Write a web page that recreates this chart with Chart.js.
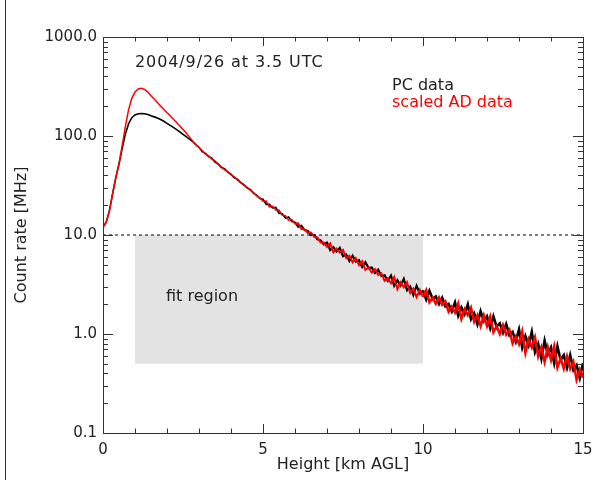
<!DOCTYPE html>
<html>
<head>
<meta charset="utf-8">
<script src="https://cdn.jsdelivr.net/npm/chart.js@4/dist/chart.umd.min.js"></script>
<style>
    html, body { margin: 0; padding: 0; background: #fff; }
    canvas { display: block; }
</style>
</head>
<body>
<canvas id="grafica" width="593" height="480"></canvas>
<script>
// alturas cada 0.1 km, de 0 a 15
const alturas = Array.from({ length: 151 }, (_, i) => i / 10);

// cuentas PC (negro), MHz
const pcData = [
    12.0, 13.5, 17.5, 26, 38, 52, 75, 105, 133, 153,
    163, 168, 169, 168, 165, 160, 156, 152, 147, 141,
    134, 128, 122, 116, 110, 104, 98.5, 93, 88, 82,
    76.9, 69.5, 66.7, 62.1, 59.8, 54.6, 52.2, 48.1, 46.7, 43.1,
    41.1, 37.8, 36.7, 33.9, 32.3, 29.9, 28.8, 26.5, 25.3, 23.4,
    23.0, 20.4, 20.4, 18.8, 19.0, 16.6, 16.4, 14.8, 15.2, 13.7,
    13.5, 12.1, 12.4, 11.2, 11.0, 9.95, 10.05, 9.04, 8.83, 8.02,
    8.39, 7.02, 7.53, 6.79, 7.41, 6.09, 6.35, 5.46, 6.19, 5.38,
    5.56, 4.74, 5.33, 4.63, 4.71, 4.13, 4.48, 3.85, 3.92, 3.44,
    3.90, 3.07, 3.50, 3.07, 3.61, 2.76, 3.02, 2.47, 3.07, 2.55,
    2.75, 2.23, 2.73, 2.27, 2.39, 2.01, 2.33, 1.91, 2.01, 1.70,
    2.08, 1.53, 1.85, 1.58, 1.99, 1.41, 1.61, 1.26, 1.70, 1.35,
    1.51, 1.15, 1.51, 1.19, 1.28, 1.03, 1.26, 0.973, 1.05, 0.839,
    1.11, 0.731, 0.953, 0.767, 1.05, 0.658, 0.794, 0.564, 0.855, 0.622,
    0.733, 0.507, 0.750, 0.546, 0.611, 0.456, 0.610, 0.433, 0.484, 0.361,
    0.508
];

// cuentas AD escaladas (rojo), MHz
const adData = [
    12.0, 13.5, 17.5, 26, 38, 53, 80, 125, 185, 240,
    278, 298, 303, 295, 278, 255, 236, 218, 201, 186,
    172, 160, 148, 137, 126, 116, 107, 98, 89, 82,
    76.5, 71.3, 65.4, 62.9, 58.5, 56.0, 51.5, 49.2, 45.4, 43.8,
    40.5, 39.0, 35.7, 34.1, 31.8, 30.5, 28.3, 27.0, 24.8, 23.8,
    21.9, 22.0, 19.2, 19.5, 17.9, 17.9, 15.8, 15.7, 14.1, 14.3,
    12.9, 13.1, 11.5, 11.4, 10.5, 10.6, 9.59, 9.46, 8.39, 8.39,
    7.59, 8.21, 6.68, 7.30, 6.64, 7.06, 5.85, 6.16, 5.30, 5.84,
    4.97, 5.43, 4.43, 4.67, 4.17, 4.52, 3.96, 4.10, 3.44, 3.66,
    3.25, 3.76, 2.84, 3.33, 2.96, 3.34, 2.59, 2.87, 2.36, 2.80,
    2.36, 2.77, 2.09, 2.33, 2.02, 2.34, 1.97, 2.13, 1.68, 1.89,
    1.65, 2.03, 1.42, 1.78, 1.55, 1.84, 1.33, 1.55, 1.20, 1.54,
    1.20, 1.50, 1.04, 1.20, 1.00, 1.23, 0.984, 1.10, 0.804, 0.948,
    0.791, 1.06, 0.644, 0.883, 0.730, 0.927, 0.594, 0.736, 0.522, 0.735,
    0.548, 0.752, 0.458, 0.568, 0.446, 0.596, 0.445, 0.524, 0.344, 0.438,
    0.361
];

const xTicks = [0, 5, 10, 15];
const xTickLabels = ["0", "5", "10", "15"];
const yTicks = [0.1, 1, 10, 100, 1000];
const yTickLabels = ["0.1", "1.0", "10.0", "100.0", "1000.0"];

const regionX = [1, 10];
const regionY = [0.5, 10];
const umbral = 10;

const titulo = "2004/9/26 at 3.5 UTC";
const nombres = ["PC data", "scaled AD data"];
const textoRegion = "fit region";

const TINTA = "#222";
const EJES = "#333";
const FUENTE = "DejaVu Sans";

Chart.defaults.font.family = FUENTE;
Chart.defaults.color = TINTA;

function puntos(serie) {
    return serie.map((v, i) => ({ x: alturas[i], y: v }));
}

// el ruido se ve como banda mas gruesa arriba
function grosor(base) {
    return (c) => {
        const x = c.p0.parsed.x;
        if (x < 6) return base;
        if (x < 10) return base + 0.5;
        return base + 1;
    };
}

const px = (p) => Math.round(p) + 0.5;

const marco = {
    id: "marco",
    beforeDraw(chart) {
        const ctx = chart.ctx;
        ctx.save();
        ctx.fillStyle = "#fff";
        ctx.fillRect(0, 0, chart.width, chart.height);
        ctx.restore();
    },
    afterDraw(chart) {
        const { ctx, chartArea: a } = chart;
        const xs = chart.scales.x;
        const ys = chart.scales.y;
        ctx.save();
        ctx.strokeStyle = EJES;
        ctx.lineWidth = 1;

        // linea vertical a la izquierda
        ctx.beginPath();
        ctx.moveTo(5.5, 0);
        ctx.lineTo(5.5, chart.height);
        ctx.stroke();

        // caja
        ctx.strokeRect(px(a.left), px(a.top), Math.round(a.right - a.left), Math.round(a.bottom - a.top));

        // marcas eje y (izquierda y derecha)
        ctx.beginPath();
        for (let d = 0.1; d < 1000; d *= 10) {
            for (let k = 1; k <= 9; k++) {
                const y = px(ys.getPixelForValue(d * k));
                const l = k === 1 ? 10 : 5;
                ctx.moveTo(a.left, y); ctx.lineTo(a.left + l, y);
                ctx.moveTo(a.right, y); ctx.lineTo(a.right - l, y);
            }
        }
        const yTop = px(ys.getPixelForValue(1000));
        ctx.moveTo(a.left, yTop); ctx.lineTo(a.left + 10, yTop);
        ctx.moveTo(a.right, yTop); ctx.lineTo(a.right - 10, yTop);

        // marcas eje x (abajo y arriba)
        for (let k = 0; k <= 15; k++) {
            const x = px(xs.getPixelForValue(k));
            const l = k % 5 === 0 ? 9 : 4.5;
            ctx.moveTo(x, a.bottom); ctx.lineTo(x, a.bottom - l);
            ctx.moveTo(x, a.top); ctx.lineTo(x, a.top + l);
        }
        ctx.stroke();

        // textos dentro
        ctx.font = "16px '" + FUENTE + "'";
        ctx.textBaseline = "alphabetic";
        ctx.textAlign = "left";
        ctx.fillStyle = TINTA;
        ctx.letterSpacing = "0.9px";
        ctx.fillText(titulo, xs.getPixelForValue(1), 67);
        ctx.letterSpacing = "0px";
        ctx.fillText(nombres[0], a.left + 289, 90);
        ctx.fillStyle = "#ff0000";
        ctx.fillText(nombres[1], a.left + 289, 107);
        ctx.fillStyle = TINTA;
        ctx.fillText(textoRegion, a.left + 63, 301);
        ctx.restore();
    }
};

new Chart(document.getElementById("grafica"), {
    type: "line",
    data: {
        datasets: [
            {
                label: nombres[1],
                data: puntos(adData),
                borderColor: "#ff0000",
                borderWidth: 1.5,
                segment: { borderWidth: grosor(1.5) },
                pointRadius: 0,
                tension: 0,
                fill: false
            },
            {
                label: nombres[0],
                data: puntos(pcData),
                borderColor: "#000",
                borderWidth: 1.8,
                segment: { borderWidth: grosor(1.6) },
                pointRadius: 0,
                tension: 0,
                fill: false
            },
            {
                label: "umbral",
                data: [{ x: 0, y: umbral }, { x: 15, y: umbral }],
                borderColor: "#000",
                borderWidth: 1,
                borderDash: [3, 3],
                pointRadius: 0,
                fill: false
            },
            {
                label: textoRegion,
                data: [{ x: regionX[0], y: regionY[1] }, { x: regionX[1], y: regionY[1] }],
                borderWidth: 0,
                borderColor: "rgba(0,0,0,0)",
                backgroundColor: "#e3e3e3",
                pointRadius: 0,
                fill: { value: regionY[0] }
            }
        ]
    },
    options: {
        responsive: false,
        animation: false,
        devicePixelRatio: 1,
        events: [],
        layout: { padding: { top: 37, right: 10, bottom: 0, left: 0 } },
        plugins: {
            legend: { display: false },
            tooltip: { enabled: false }
        },
        scales: {
            x: {
                type: "linear",
                min: 0,
                max: 15,
                grid: { display: false, drawTicks: false },
                border: { display: false },
                afterBuildTicks: (s) => { s.ticks = xTicks.map((v) => ({ value: v })); },
                afterFit: (s) => { s.height = 47; s.paddingLeft = 0; s.paddingRight = 0; },
                ticks: {
                    autoSkip: false,
                    maxRotation: 0,
                    minRotation: 0,
                    padding: 8,
                    font: { size: 15 },
                    color: TINTA,
                    callback: (v, i) => xTickLabels[i]
                },
                title: {
                    display: true,
                    text: "Height [km AGL]",
                    font: { size: 16 },
                    color: TINTA,
                    padding: { top: 0, bottom: 6 }
                }
            },
            y: {
                type: "logarithmic",
                min: 0.1,
                max: 1000,
                grid: { display: false, drawTicks: false },
                border: { display: false },
                afterBuildTicks: (s) => { s.ticks = yTicks.map((v) => ({ value: v })); },
                afterFit: (s) => { s.width = 103; s.paddingTop = 0; s.paddingBottom = 0; },
                ticks: {
                    autoSkip: false,
                    padding: 6,
                    font: { size: 15 },
                    color: TINTA,
                    callback: (v, i) => yTickLabels[i]
                },
                title: {
                    display: true,
                    text: "Count rate [MHz]",
                    font: { size: 16 },
                    color: TINTA,
                    padding: { top: 12, bottom: 0 }
                }
            }
        }
    },
    plugins: [marco]
});
</script>
</body>
</html>
